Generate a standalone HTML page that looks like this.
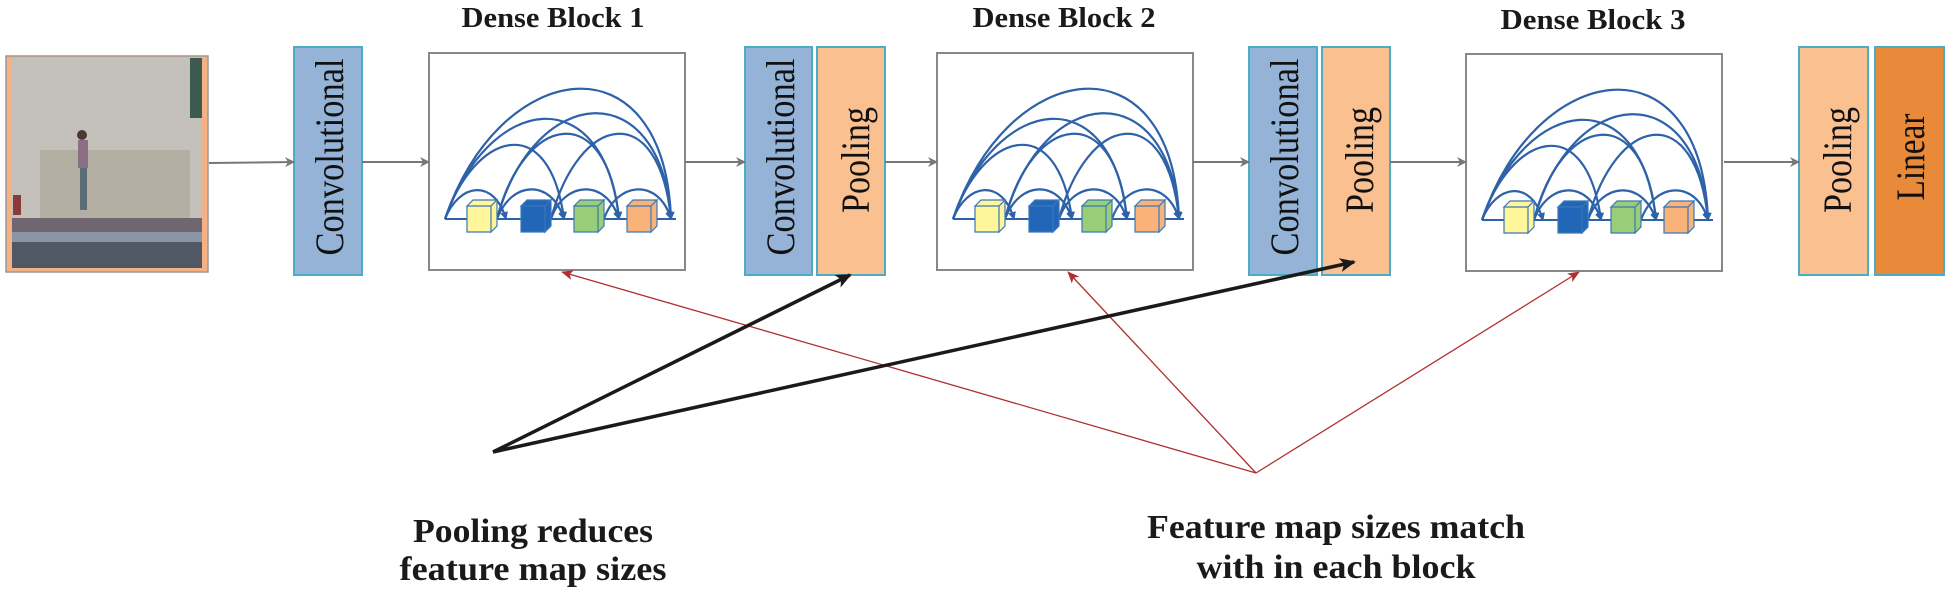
<!DOCTYPE html>
<html><head><meta charset="utf-8"><style>
body{margin:0;background:#fff;}
svg{display:block;}
.t{font-family:"Liberation Serif",serif;font-weight:bold;fill:#1a1a1a;}
.v{font-family:"Liberation Serif",serif;fill:#111;font-size:40px;}
</style></head><body>
<svg width="1945" height="598" viewBox="0 0 1945 598" xmlns="http://www.w3.org/2000/svg">
<defs>
<marker id="ga" markerWidth="10" markerHeight="10" refX="9" refY="5" orient="auto" markerUnits="userSpaceOnUse"><path d="M0,0 L10,5 L0,10 L3,5 z" fill="#777"/></marker>
<marker id="ba" markerWidth="16" markerHeight="14" refX="14" refY="7" orient="auto" markerUnits="userSpaceOnUse"><path d="M0,0 L16,7 L0,14 L4,7 z" fill="#1a1a1a"/></marker>
<marker id="ra" markerWidth="12" markerHeight="10" refX="11" refY="5" orient="auto" markerUnits="userSpaceOnUse"><path d="M0,0 L12,5 L0,10 L3,5 z" fill="#b03030"/></marker>
<marker id="sa" markerWidth="8" markerHeight="8" refX="7" refY="4" orient="auto" markerUnits="userSpaceOnUse"><path d="M0,0 L8,4 L0,8 z" fill="#2E62A8"/></marker>
<g id="blk">
<rect x="0" y="0" width="256" height="217" fill="#fff" stroke="#888" stroke-width="2"/>
<g fill="none" stroke="#2E62A8" stroke-width="2.2" marker-end="url(#sa)">
<path d="M16 166 C30 130, 65 125, 77 166"/>
<path d="M16 166 C45 80, 120 55, 135 166"/>
<path d="M16 166 C60 40, 175 25, 190 166"/>
<path d="M16 166 C70 5, 235 -20, 242 166"/>
<path d="M68 166 C82 128, 122 125, 135 166"/>
<path d="M68 166 C95 60, 178 45, 190 166"/>
<path d="M68 166 C105 30, 232 20, 242 166"/>
<path d="M122 166 C135 128, 177 125, 190 166"/>
<path d="M122 166 C150 60, 230 45, 242 166"/>
<path d="M175 166 C188 128, 230 125, 242 166"/>
</g>
<line x1="16" y1="166" x2="247" y2="166" stroke="#2E62A8" stroke-width="2"/>
<g stroke="#3a78b8" stroke-width="1.2">
<path d="M38 153 h24 v26 h-24z M38 153 l6 -6 h24 l-6 6z M62 153 l6 -6 v26 l-6 6z" fill="#FFF59A"/>
<path d="M92 153 h24 v26 h-24z M92 153 l6 -6 h24 l-6 6z M116 153 l6 -6 v26 l-6 6z" fill="#2266B8"/>
<path d="M145 153 h24 v26 h-24z M145 153 l6 -6 h24 l-6 6z M169 153 l6 -6 v26 l-6 6z" fill="#9ACD78"/>
<path d="M198 153 h24 v26 h-24z M198 153 l6 -6 h24 l-6 6z M222 153 l6 -6 v26 l-6 6z" fill="#F9B27A"/>
</g>
</g>
</defs>

<!-- photo -->
<rect x="6" y="56" width="202" height="216" fill="#F4B183" stroke="#999" stroke-width="1.5"/>
<rect x="12" y="58" width="190" height="160" fill="#c4c1bb"/>
<rect x="40" y="150" width="150" height="68" fill="#aaa493" opacity="0.6"/>
<rect x="190" y="58" width="12" height="60" fill="#3c5a50"/>
<rect x="12" y="218" width="190" height="14" fill="#6f6670"/>
<rect x="12" y="232" width="190" height="10" fill="#8a96a6"/>
<rect x="12" y="242" width="190" height="26" fill="#505866"/>
<rect x="13" y="195" width="8" height="20" fill="#8a3a3a"/>
<circle cx="82" cy="135" r="5" fill="#4a3a35"/>
<rect x="78" y="140" width="10" height="28" fill="#8a6f85"/>
<rect x="80" y="168" width="7" height="42" fill="#5a6e78"/>

<!-- boxes -->
<rect x="294" y="47" width="68" height="228" fill="#95B3D7" stroke="#4BACC6" stroke-width="2"/>
<rect x="745" y="47" width="67" height="228" fill="#95B3D7" stroke="#4BACC6" stroke-width="2"/>
<rect x="817" y="47" width="68" height="228" fill="#FAC090" stroke="#4BACC6" stroke-width="2"/>
<rect x="1249" y="47" width="68" height="228" fill="#95B3D7" stroke="#4BACC6" stroke-width="2"/>
<rect x="1322" y="47" width="68" height="228" fill="#FAC090" stroke="#4BACC6" stroke-width="2"/>
<rect x="1799" y="47" width="69" height="228" fill="#FAC090" stroke="#4BACC6" stroke-width="2"/>
<rect x="1875" y="47" width="69" height="228" fill="#E88A3A" stroke="#4BACC6" stroke-width="2"/>

<text class="v" transform="translate(343,157) rotate(-90)" text-anchor="middle" textLength="197" lengthAdjust="spacingAndGlyphs">Convolutional</text>
<text class="v" transform="translate(794,157) rotate(-90)" text-anchor="middle" textLength="197" lengthAdjust="spacingAndGlyphs">Convolutional</text>
<text class="v" transform="translate(869,160) rotate(-90)" text-anchor="middle" textLength="106" lengthAdjust="spacingAndGlyphs">Pooling</text>
<text class="v" transform="translate(1298,157) rotate(-90)" text-anchor="middle" textLength="197" lengthAdjust="spacingAndGlyphs">Convolutional</text>
<text class="v" transform="translate(1373,160) rotate(-90)" text-anchor="middle" textLength="106" lengthAdjust="spacingAndGlyphs">Pooling</text>
<text class="v" transform="translate(1851,160) rotate(-90)" text-anchor="middle" textLength="106" lengthAdjust="spacingAndGlyphs">Pooling</text>
<text class="v" transform="translate(1924,157) rotate(-90)" text-anchor="middle" textLength="87" lengthAdjust="spacingAndGlyphs">Linear</text>

<use href="#blk" x="429" y="53"/>
<use href="#blk" x="937" y="53"/>
<use href="#blk" x="1466" y="54"/>

<text class="t" x="553" y="27" font-size="29" text-anchor="middle" textLength="183" lengthAdjust="spacingAndGlyphs">Dense Block 1</text>
<text class="t" x="1064" y="27" font-size="29" text-anchor="middle" textLength="183" lengthAdjust="spacingAndGlyphs">Dense Block 2</text>
<text class="t" x="1593" y="29" font-size="29" text-anchor="middle" textLength="185" lengthAdjust="spacingAndGlyphs">Dense Block 3</text>

<g stroke="#777" stroke-width="2" marker-end="url(#ga)">
<line x1="209" y1="163" x2="294" y2="162"/>
<line x1="362" y1="162" x2="429" y2="162"/>
<line x1="685" y1="162" x2="745" y2="162"/>
<line x1="885" y1="162" x2="937" y2="162"/>
<line x1="1193" y1="162" x2="1249" y2="162"/>
<line x1="1390" y1="162" x2="1466" y2="162"/>
<line x1="1724" y1="162" x2="1799" y2="162"/>
</g>

<g stroke="#b03030" stroke-width="1.3" marker-end="url(#ra)">
<line x1="1256" y1="473" x2="562" y2="272"/>
<line x1="1256" y1="473" x2="1068" y2="272"/>
<line x1="1256" y1="473" x2="1579" y2="272"/>
</g>
<g stroke="#1a1a1a" stroke-width="3.5" marker-end="url(#ba)">
<line x1="493" y1="452" x2="850" y2="275"/>
<line x1="493" y1="452" x2="1354" y2="262"/>
</g>

<text class="t" x="533" y="542" font-size="34" text-anchor="middle" textLength="240" lengthAdjust="spacingAndGlyphs">Pooling reduces</text>
<text class="t" x="533" y="580" font-size="34" text-anchor="middle" textLength="267" lengthAdjust="spacingAndGlyphs">feature map sizes</text>
<text class="t" x="1336" y="538" font-size="34" text-anchor="middle" textLength="378" lengthAdjust="spacingAndGlyphs">Feature map sizes match</text>
<text class="t" x="1336" y="578" font-size="34" text-anchor="middle" textLength="279" lengthAdjust="spacingAndGlyphs">with in each block</text>
</svg>
</body></html>
